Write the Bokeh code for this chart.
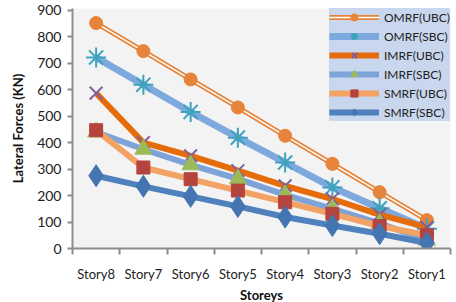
from bokeh.plotting import figure
from bokeh.models import Legend, LegendItem, FixedTicker, Range1d, Title
from bokeh.embed import file_html
from bokeh.resources import INLINE

stories = ["Story8", "Story7", "Story6", "Story5", "Story4", "Story3", "Story2", "Story1"]
omrf_ubc = [852, 746, 639, 533, 426, 320, 213, 107]
omrf_sbc = [722, 619, 516, 419, 325, 231, 152, 75]
imrf_ubc = [587, 400, 350, 294, 237, 187, 128, 80]
imrf_sbc = [440, 375, 316, 263, 203, 150, 95, 31]
smrf_ubc = [447, 306, 262, 219, 175, 131, 85, 50]
smrf_sbc = [275, 235, 197, 159, 119, 87, 56, 21]
y_ticks = [0, 100, 200, 300, 400, 500, 600, 700, 800, 900]

FONT = "Lato"
xs = list(range(1, len(stories) + 1))

p = figure(width=456, height=302, output_backend="svg", toolbar_location=None,
           x_range=Range1d(0.5, len(stories) + 0.5), y_range=Range1d(0, 907),
           min_border_left=72, min_border_right=6, min_border_top=8, min_border_bottom=52)
p.background_fill_color = "#f3f3f3"
p.border_fill_color = "white"
p.outline_line_color = None
p.xgrid.grid_line_color = None
p.ygrid.grid_line_color = None

# x axis
p.xaxis.ticker = FixedTicker(ticks=xs, minor_ticks=[x + 0.5 for x in range(0, len(stories) + 1)])
p.xaxis.major_label_overrides = {i: s for i, s in zip(xs, stories)}
p.xaxis.major_tick_out = 0
p.xaxis.major_tick_in = 0
p.xaxis.minor_tick_out = 6
p.xaxis.minor_tick_in = 0
p.xaxis.minor_tick_line_color = "#8c8c8c"
p.xaxis.minor_tick_line_width = 2
p.xaxis.axis_line_color = "#8c8c8c"
p.xaxis.axis_line_width = 2
p.xaxis.major_label_standoff = 11
p.xaxis.major_label_text_font = FONT
p.xaxis.major_label_text_font_size = "13px"
p.xaxis.major_label_text_color = "#222222"

# y axis
p.yaxis.ticker = FixedTicker(ticks=y_ticks)
p.yaxis.minor_tick_line_color = None
p.yaxis.major_tick_out = 5
p.yaxis.major_tick_in = 0
p.yaxis.major_tick_line_color = "#8c8c8c"
p.yaxis.major_tick_line_width = 2
p.yaxis.axis_line_color = "#8c8c8c"
p.yaxis.axis_line_width = 2
p.yaxis.major_label_standoff = 6
p.yaxis.major_label_text_font = FONT
p.yaxis.major_label_text_font_size = "14px"
p.yaxis.major_label_text_color = "#222222"
p.yaxis.axis_label = "Lateral Forces (KN)"
p.yaxis.axis_label_text_font = FONT
p.yaxis.axis_label_text_font_style = "bold"
p.yaxis.axis_label_text_font_size = "13px"
p.yaxis.axis_label_text_color = "#111111"
p.yaxis.axis_label_standoff = 8

# x axis title in a panel below the axis
p.add_layout(Title(text="Storeys", align="center", text_font=FONT, text_font_style="bold",
                   text_font_size="13px", text_color="#111111", standoff=0, offset=0), "below")

items = []

# OMRF(UBC): double orange line, circle marker
r1 = p.line(xs, omrf_ubc, line_color="#E5843A", line_width=5)
r2 = p.line(xs, omrf_ubc, line_color="white", line_width=1.5)
r3 = p.scatter(xs, omrf_ubc, marker="circle", size=13, fill_color="#E5843A", line_color="#E5843A")
items.append(LegendItem(label="OMRF(UBC)", renderers=[r1, r2, r3]))

# OMRF(SBC): textured light blue line, asterisk
r1 = p.line(xs, omrf_sbc, line_color="#7EA9DE", line_width=7)
r2 = p.scatter(xs, omrf_sbc, marker="asterisk", size=20, line_color="#3FA3BE", line_width=2)
items.append(LegendItem(label="OMRF(SBC)", renderers=[r1, r2]))

# IMRF(UBC): solid orange, x marker
r1 = p.line(xs, imrf_ubc, line_color="#E46C0A", line_width=6)
r2 = p.scatter(xs, imrf_ubc, marker="x", size=18, line_color="#7E5FA2", line_width=2)
items.append(LegendItem(label="IMRF(UBC)", renderers=[r1, r2]))

# IMRF(SBC): textured blue line, triangle
r1 = p.line(xs, imrf_sbc, line_color="#7DA3D8", line_width=6)
r2 = p.scatter(xs, imrf_sbc, marker="triangle", size=17, fill_color="#9BBB59", line_color="#9BBB59")
items.append(LegendItem(label="IMRF(SBC)", renderers=[r1, r2]))

# SMRF(UBC): textured orange line, square
r1 = p.line(xs, smrf_ubc, line_color="#F2A264", line_width=6)
r2 = p.scatter(xs, smrf_ubc, marker="square", size=13, fill_color="#B5443F", line_color="#B5443F")
items.append(LegendItem(label="SMRF(UBC)", renderers=[r1, r2]))

# SMRF(SBC): solid blue line, diamond
r1 = p.line(xs, smrf_sbc, line_color="#4F81BD", line_width=6)
r2 = p.scatter(xs, smrf_sbc, marker="diamond", size=22, fill_color="#4575B0", line_color="#4575B0")
items.append(LegendItem(label="SMRF(SBC)", renderers=[r1, r2]))

legend = Legend(items=items, location="top_right", margin=0, padding=4,
                glyph_width=50, glyph_height=18, spacing=1, label_standoff=5,
                label_text_font=FONT, label_text_font_size="12px", label_text_color="#222222",
                background_fill_color="#c9d7ee", background_fill_alpha=1.0,
                border_line_color=None)
p.add_layout(legend, "center")

open("out.html", "w").write(file_html(p, INLINE))
